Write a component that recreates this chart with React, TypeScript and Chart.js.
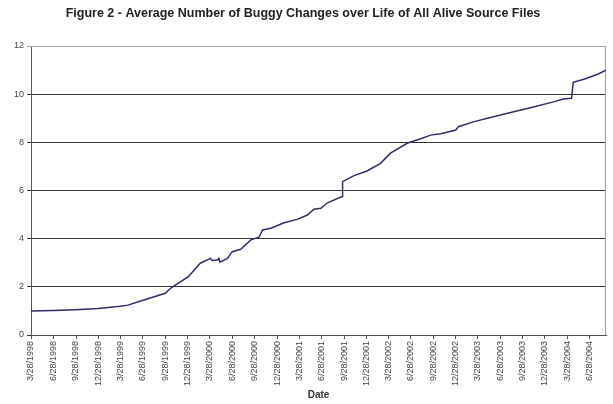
import React, { useEffect, useRef } from 'react';
import { Chart, registerables } from 'chart.js';

Chart.register(...registerables);

const TITLE = 'Figure 2 - Average Number of Buggy Changes over Life of All Alive Source Files';
const X_TITLE = 'Date';

const dates = [
  '1998-03-28', '1998-06-27', '1998-09-25', '1998-12-28', '1999-03-28', '1999-04-28',
  '1999-06-23', '1999-09-28', '1999-10-25', '1999-11-29', '1999-12-31', '2000-02-18',
  '2000-03-31', '2000-04-07', '2000-04-28', '2000-05-04', '2000-05-08', '2000-06-08',
  '2000-06-28', '2000-08-01', '2000-09-12', '2000-10-15', '2000-10-30', '2000-12-03',
  '2001-01-26', '2001-03-20', '2001-05-01', '2001-05-28', '2001-06-25', '2001-07-22',
  '2001-09-20', '2001-09-22', '2001-11-08', '2001-12-31', '2002-02-24', '2002-04-06',
  '2002-06-13', '2002-08-07', '2002-09-17', '2002-10-28', '2002-12-29', '2003-01-08',
  '2003-03-14', '2003-06-05', '2003-08-27', '2003-11-15', '2004-02-05', '2004-03-12',
  '2004-04-15', '2004-04-22', '2004-06-08', '2004-08-02', '2004-09-03',
];

const values = [
  1.0, 1.02, 1.05, 1.1, 1.19, 1.24,
  1.42, 1.73, 1.98, 2.21, 2.42, 2.98,
  3.18, 3.09, 3.11, 3.18, 3.02, 3.18,
  3.46, 3.56, 3.95, 4.06, 4.36, 4.43,
  4.66, 4.8, 4.98, 5.22, 5.26, 5.49,
  5.75, 6.37, 6.62, 6.81, 7.13, 7.55,
  7.96, 8.15, 8.3, 8.36, 8.51, 8.65,
  8.86, 9.07, 9.28, 9.48, 9.69, 9.8,
  9.83, 10.49, 10.63, 10.84, 11.0,
];

const tickLabels = [
  '3/28/1998', '6/28/1998', '9/28/1998', '12/28/1998',
  '3/28/1999', '6/28/1999', '9/28/1999', '12/28/1999',
  '3/28/2000', '6/28/2000', '9/28/2000', '12/28/2000',
  '3/28/2001', '6/28/2001', '9/28/2001', '12/28/2001',
  '3/28/2002', '6/28/2002', '9/28/2002', '12/28/2002',
  '3/28/2003', '6/28/2003', '9/28/2003', '12/28/2003',
  '3/28/2004', '6/28/2004',
];

const Y_MIN = 0;
const Y_MAX = 12;
const Y_STEP = 2;

const DAY = 86400000;
const isoToUtc = (s: string) => {
  const [y, m, d] = s.split('-').map(Number);
  return Date.UTC(y, m - 1, d);
};
const mdyToUtc = (s: string) => {
  const [m, d, y] = s.split('/').map(Number);
  return Date.UTC(y, m - 1, d);
};
const BASE = isoToUtc(dates[0]);
const dayOf = (t: number) => Math.round((t - BASE) / DAY);

export default function App() {
  const ref = useRef<HTMLCanvasElement>(null);

  useEffect(() => {
    document.body.style.margin = '0';
    const canvas = ref.current!;
    const points = dates.map((d, i) => ({ x: dayOf(isoToUtc(d)), y: values[i] }));
    const tickDays = tickLabels.map((l) => dayOf(mdyToUtc(l)));
    const labelByDay = new Map<number, string>();
    tickDays.forEach((d, i) => labelByDay.set(d, tickLabels[i]));

    const borderPlugin = {
      id: 'plotBorder',
      beforeDatasetsDraw(chart: any) {
        const { ctx, chartArea } = chart;
        ctx.save();
        ctx.strokeStyle = '#a8a09a';
        ctx.lineWidth = 1;
        ctx.beginPath();
        ctx.moveTo(chartArea.left, chartArea.top + 0.5);
        ctx.lineTo(chartArea.right - 0.5, chartArea.top + 0.5);
        ctx.lineTo(chartArea.right - 0.5, chartArea.bottom);
        ctx.stroke();
        ctx.restore();
      },
    };

    const chart = new Chart(canvas, {
      type: 'line',
      data: {
        datasets: [
          {
            data: points,
            borderColor: '#2e2e6e',
            borderWidth: 1.5,
            pointRadius: 0,
            tension: 0,
            fill: false,
          },
        ],
      },
      options: {
        animation: false,
        responsive: false,
        layout: { padding: { left: 0, right: 7, top: 0, bottom: 0 } },
        plugins: {
          legend: { display: false },
          tooltip: { enabled: false },
          title: {
            display: true,
            text: TITLE,
            color: '#222',
            font: { family: 'Liberation Sans, Arial, sans-serif', size: 12.5, weight: 'bold' },
            padding: { top: 6, bottom: 25 },
          },
        },
        scales: {
          x: {
            type: 'linear',
            min: 0,
            max: points[points.length - 1].x,
            afterBuildTicks: (scale: any) => {
              scale.ticks = tickDays.map((v) => ({ value: v }));
            },
            afterFit: (scale: any) => {
              scale.height = 69;
            },
            ticks: {
              autoSkip: false,
              minRotation: 90,
              maxRotation: 90,
              padding: 2,
              color: '#444',
              font: { family: 'Liberation Sans, Arial, sans-serif', size: 9 },
              callback: (v: any) => labelByDay.get(Number(v)) ?? '',
            },
            grid: {
              drawOnChartArea: false,
              drawTicks: true,
              tickLength: 4,
              color: '#555',
            },
            border: { display: true, color: '#555', width: 1 },
            title: {
              display: true,
              text: X_TITLE,
              color: '#333',
              font: { family: 'Liberation Sans, Arial, sans-serif', size: 10, weight: 'bold' },
              padding: { top: 0, bottom: 3 },
            },
          },
          y: {
            type: 'linear',
            min: Y_MIN,
            max: Y_MAX,
            afterFit: (scale: any) => {
              scale.width = 31;
            },
            ticks: {
              stepSize: Y_STEP,
              padding: 3,
              color: '#444',
              font: { family: 'Liberation Sans, Arial, sans-serif', size: 9 },
            },
            grid: {
              drawTicks: true,
              tickLength: 4,
              color: (c: any) => (c.tick && c.tick.value === Y_MAX ? '#a8a09a' : '#333'),
            },
            border: { display: true, color: '#555', width: 1 },
          },
        },
      },
      plugins: [borderPlugin],
    });

    return () => chart.destroy();
  }, []);

  return <canvas ref={ref} width={613} height={404} style={{ display: 'block' }} />;
}
